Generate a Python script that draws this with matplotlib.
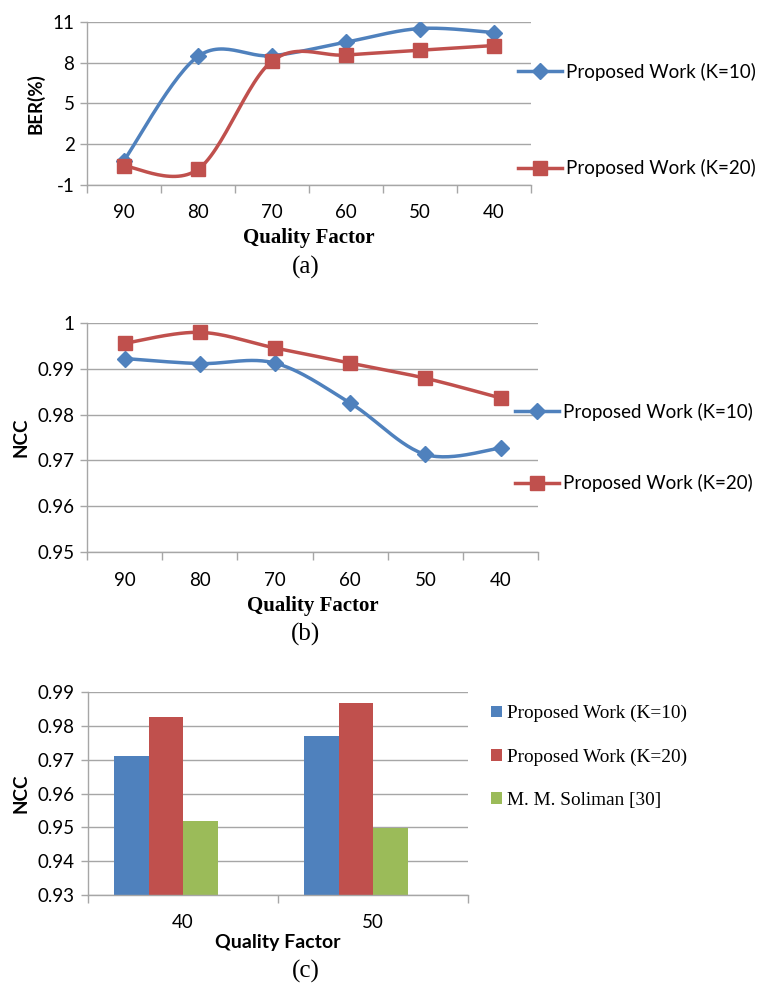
import numpy as np
import matplotlib
matplotlib.use("Agg")
import matplotlib.pyplot as plt

# data
quality = ["90", "80", "70", "60", "50", "40"]
ber_k10 = [0.8, 8.45, 8.5, 9.5, 10.5, 10.2]
ber_k20 = [0.4, 0.15, 8.1, 8.55, 8.9, 9.25]
ncc_k10 = [0.9922, 0.9911, 0.9912, 0.9825, 0.9713, 0.9727]
ncc_k20 = [0.9955, 0.9979, 0.9945, 0.9912, 0.9879, 0.9836]

bar_quality = ["40", "50"]
bar_k10 = [0.9712, 0.9771]
bar_k20 = [0.9827, 0.9867]
bar_soliman = [0.9519, 0.9498]

BLUE = "#4F81BD"
RED = "#C0504D"
GREEN = "#9BBB59"
GRID = "#A6A6A6"
SANS = "Lato"
SERIF = "Liberation Serif"
FS = 13.5

W, H = 760, 988


def axes_px(fig, left, top, right, bottom):
    return fig.add_axes([left / W, 1 - bottom / H, (right - left) / W, (bottom - top) / H])


def smooth(x, y, n=30):
    # excel-style smoothed line (catmull-rom as cubic bezier)
    p = np.column_stack([x, y]).astype(float)
    p = np.vstack([p[0], p, p[-1]])
    out = []
    t = np.linspace(0, 1, n)[:, None]
    for i in range(1, len(p) - 2):
        p0, p1, p2, p3 = p[i - 1], p[i], p[i + 1], p[i + 2]
        c1 = p1 + (p2 - p0) / 6
        c2 = p2 - (p3 - p1) / 6
        seg = ((1 - t) ** 3) * p1 + 3 * ((1 - t) ** 2) * t * c1 + 3 * (1 - t) * t ** 2 * c2 + t ** 3 * p2
        out.append(seg)
    out = np.vstack(out)
    return out[:, 0], out[:, 1]


def style_axes(ax, ncat):
    for s in ["top", "right"]:
        ax.spines[s].set_visible(False)
    for s in ["left", "bottom"]:
        ax.spines[s].set_color(GRID)
        ax.spines[s].set_linewidth(1)
    ax.yaxis.grid(True, color=GRID, linewidth=1)
    ax.set_axisbelow(True)
    ax.set_xlim(-0.5, ncat - 0.5)
    ax.set_xticks(np.arange(-0.5, ncat, 1.0), minor=True)
    ax.tick_params(axis="x", which="major", length=0, pad=14)
    ax.tick_params(axis="x", which="minor", length=6, color=GRID, width=1)
    ax.tick_params(axis="y", length=5, color=GRID, width=1, pad=4)
    for lab in ax.get_xticklabels() + ax.get_yticklabels():
        lab.set_fontfamily(SANS)
        lab.set_fontsize(FS)


def xlabel_at(ax, top, bottom, ypx, family, size):
    ax.set_xlabel("Quality Factor", fontfamily=family, fontweight="bold", fontsize=size, va="center")
    ax.xaxis.set_label_coords(0.5 + 0.5 * 0, (bottom - ypx) / (bottom - top))


def line_panel(ax, yk10, yk20, ylabel, yticks, ylim, fmt):
    x = np.arange(len(quality))
    sx, sy = smooth(x, yk10)
    ax.plot(sx, sy, color=BLUE, lw=2.5)
    ax.plot(x, yk10, ls="none", marker="D", ms=8, color=BLUE)
    sx, sy = smooth(x, yk20)
    ax.plot(sx, sy, color=RED, lw=2.5)
    ax.plot(x, yk20, ls="none", marker="s", ms=10.5, color=RED)
    ax.set_xticks(x)
    ax.set_xticklabels(quality)
    ax.set_yticks(yticks)
    ax.set_yticklabels([fmt(v) for v in yticks])
    ax.set_ylim(*ylim)
    ax.set_ylabel(ylabel, fontfamily=SANS, fontweight="bold", fontsize=FS, labelpad=6)
    style_axes(ax, len(quality))
    h1 = plt.Line2D([], [], color=BLUE, lw=2.5, marker="D", ms=8)
    h2 = plt.Line2D([], [], color=RED, lw=2.5, marker="s", ms=10.5)
    return h1, h2


fig = plt.figure(figsize=(W / 100, H / 100), dpi=100)
line_labels = ["Proposed Work (K=10)", "Proposed Work (K=20)"]

# (a)
ax1 = axes_px(fig, 87, 21.7, 531, 185)
h1, h2 = line_panel(ax1, ber_k10, ber_k20, "BER(%)", [-1, 2, 5, 8, 11], (-1, 11), lambda v: "%d" % v)
xlabel_at(ax1, 21.7, 185, 238, SERIF, 15)
fig.legend([h1, h2], line_labels, loc="center left", bbox_to_anchor=(518 / W, 1 - 120 / H),
           frameon=False, borderpad=0, borderaxespad=0, handlelength=2.35, handletextpad=0.2,
           labelspacing=4.2, prop={"family": SANS, "size": FS})
fig.text(306 / W, 1 - 267 / H, "(a)", ha="center", va="center", fontfamily=SERIF, fontsize=18)

# (b)
ax2 = axes_px(fig, 87, 322.7, 538.3, 552.3)
h1, h2 = line_panel(ax2, ncc_k10, ncc_k20, "NCC", [0.95, 0.96, 0.97, 0.98, 0.99, 1.0], (0.95, 1.0),
                    lambda v: "%g" % round(v, 2))
xlabel_at(ax2, 322.7, 552.3, 606, SERIF, 15)
fig.legend([h1, h2], line_labels, loc="center left", bbox_to_anchor=(515 / W, 1 - 447.5 / H),
           frameon=False, borderpad=0, borderaxespad=0, handlelength=2.35, handletextpad=0.2,
           labelspacing=2.85, prop={"family": SANS, "size": FS})
fig.text(306 / W, 1 - 634 / H, "(b)", ha="center", va="center", fontfamily=SERIF, fontsize=18)

# (c)
ax3 = axes_px(fig, 87.5, 692.3, 468, 895)
xc = np.arange(len(bar_quality))
bw = 0.181
shift = -0.088
ax3.bar(xc + shift - bw, bar_k10, bw, color=BLUE, label="Proposed Work (K=10)")
ax3.bar(xc + shift, bar_k20, bw, color=RED, label="Proposed Work (K=20)")
ax3.bar(xc + shift + bw, bar_soliman, bw, color=GREEN, label="M. M. Soliman [30]")
ax3.set_xticks(xc)
ax3.set_xticklabels(bar_quality)
yt = [0.93, 0.94, 0.95, 0.96, 0.97, 0.98, 0.99]
ax3.set_yticks(yt)
ax3.set_yticklabels(["%.2f" % v for v in yt])
ax3.set_ylim(0.93, 0.99)
ax3.set_ylabel("NCC", fontfamily=SANS, fontweight="bold", fontsize=FS, labelpad=6)
style_axes(ax3, len(bar_quality))
xlabel_at(ax3, 692.3, 895, 942, SANS, 14)
hs, ls = ax3.get_legend_handles_labels()
fig.legend(hs, ls, loc="center left", bbox_to_anchor=(491 / W, 1 - 757 / H), frameon=False,
           borderpad=0, borderaxespad=0, handlelength=0.55, handleheight=0.55, handletextpad=0.3,
           labelspacing=1.35, prop={"family": SERIF, "size": 13.9})
fig.text(306 / W, 1 - 971 / H, "(c)", ha="center", va="center", fontfamily=SERIF, fontsize=18)

fig.savefig("out.png", dpi=100)
